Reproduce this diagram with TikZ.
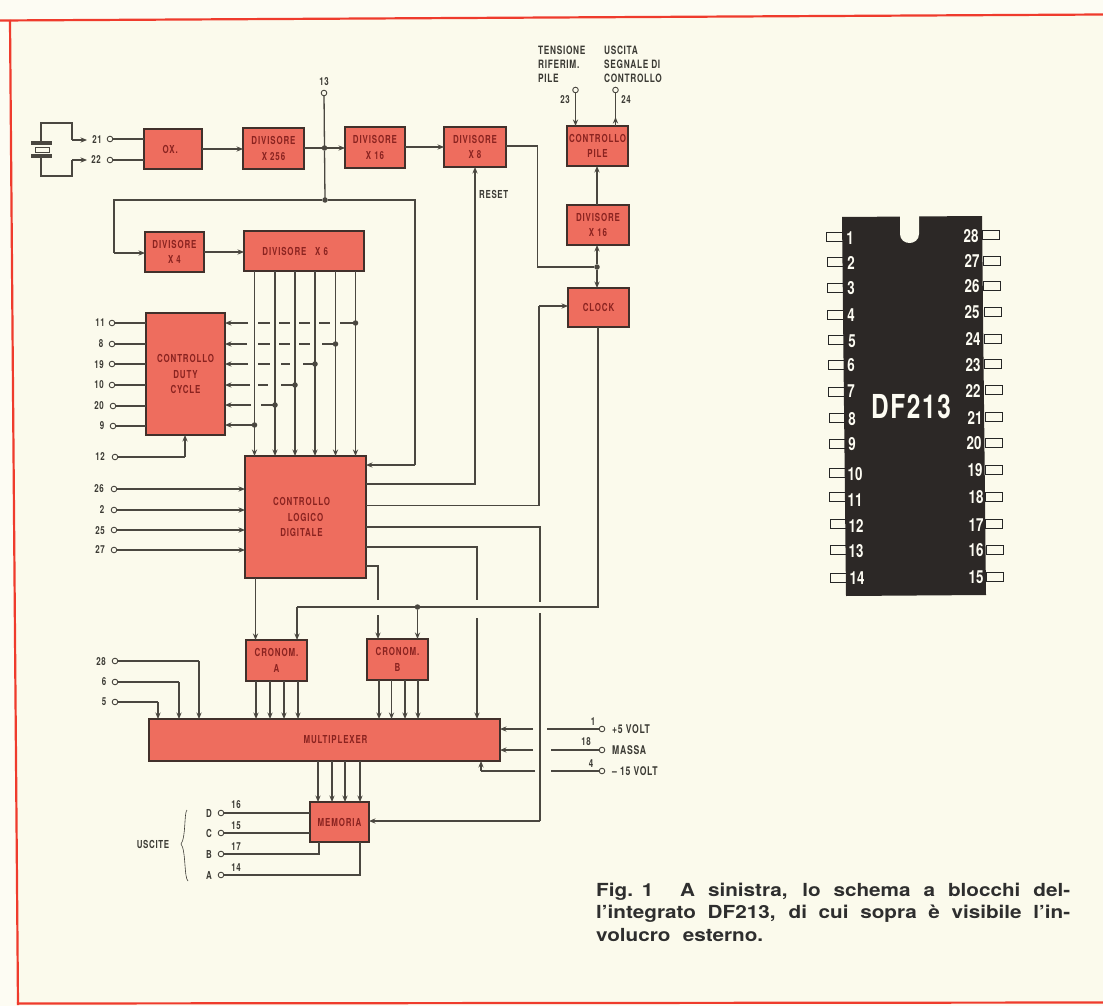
\documentclass[tikz,border=0pt]{standalone}
\usepackage{fontspec}
\usetikzlibrary{arrows.meta,calc}
\newfontfamily\boxfont[FakeStretch=0.72,LetterSpace=8]{TeX Gyre Heros}
\newfontfamily\pinfont[FakeStretch=0.72,LetterSpace=6]{TeX Gyre Heros}
\newfontfamily\chipfont[FakeStretch=0.74]{TeX Gyre Heros}
\newfontfamily\chipnamefont[FakeStretch=0.74,LetterSpace=5]{TeX Gyre Heros}
\newfontfamily\capfont[FakeStretch=1.15]{TeX Gyre Heros}
\definecolor{paper}{HTML}{FBFAEC}
\definecolor{paperb}{HTML}{FDFCF3}
\definecolor{redline}{HTML}{EF3B2C}
\definecolor{boxfill}{HTML}{EE6D5E}
\definecolor{boxedge}{HTML}{41302B}
\definecolor{boxtext}{HTML}{8A2320}
\definecolor{wirec}{HTML}{4A4740}
\definecolor{inkc}{HTML}{3B3A34}
\definecolor{chipc}{HTML}{2C2826}
\tikzset{
  blockbox/.style={draw=boxedge,fill=boxfill,line width=1.2pt,inner sep=0pt,outer sep=0pt,align=center,
    text=boxtext,font=\boxfont\bfseries\fontsize{11}{15.3}\selectfont},
  wire/.style={draw=wirec,line width=1.3pt,line join=miter},
  arrowwire/.style={wire,-{Stealth[length=6.5pt,width=5.2pt]}},
  pinring/.style={circle,draw=wirec,fill=paper,line width=.9pt,minimum size=5.6pt,inner sep=0pt,outer sep=0pt},
  junction/.style={circle,fill=wirec,minimum size=5.5pt,inner sep=0pt,outer sep=0pt},
  pinlabel/.style={text=inkc,inner sep=0pt,font=\pinfont\bfseries\fontsize{11}{12}\selectfont},
  supplylabel/.style={pinlabel,anchor=west,font=\pinfont\bfseries\fontsize{12}{12}\selectfont},
  notelabel/.style={text=inkc,inner sep=0pt,align=left,font=\pinfont\bfseries\fontsize{11.5}{14}\selectfont},
  chippinbox/.style={draw=black!85,fill=paper,line width=.8pt,minimum width=17pt,minimum height=9pt,inner sep=0pt},
  chipnum/.style={text=paperb,inner sep=0pt,font=\chipfont\bfseries\fontsize{18}{18}\selectfont},
  captionline/.style={text=black!82,inner sep=0pt,anchor=base west,font=\capfont\bfseries\fontsize{18}{20}\selectfont}
}
\newcommand{\blk}[6]{\node[blockbox,minimum width={(#4-#2)*1pt},minimum height={(#5-#3)*1pt}] (#1) at ({(#2+#4)/2},{(#3+#5)/2}) {#6};}
\newcommand{\pinat}[6]{\node[pinring] (#1) at (#2,#3) {}; \node[pinlabel] (#1l) at (#4,#5) {#6};}
\begin{document}
\begin{tikzpicture}[x=1pt,y=-1pt]
\useasboundingbox (0,0) rectangle (1103,1006);
\fill[paperb] (0,0) rectangle (1103,1006);
\fill[paper] (11,20) -- (1103,14) -- (1103,1004) -- (17,1004) -- cycle;
\draw[redline,line width=2.2pt] (0,20.5) -- (1103,14.5);
\draw[redline,line width=2.2pt] (10,20) -- (18,1005);
\draw[redline,line width=2.2pt] (17,1003.5) -- (1103,1002.5);

% blocks
\blk{ox}{144}{129}{202}{169}{OX.\hspace*{.5em}}
\blk{d256}{243}{128}{304}{169}{DIVISORE\\X 256}
\blk{d16}{345}{127}{405}{168}{DIVISORE\\X 16}
\blk{d8}{444}{127}{506}{167}{DIVISORE\\X 8}
\blk{pile}{567}{126}{628}{166}{CONTROLLO\\PILE}
\blk{d16b}{567}{205}{629}{245}{DIVISORE\\X 16}
\blk{clk}{568}{288}{629}{327}{CLOCK}
\blk{d4}{145}{232}{204}{272}{DIVISORE\\X 4}
\blk{d6}{244}{231}{364}{271}{DIVISORE\hspace{.8em}X 6\hspace*{1.6em}}
\blk{duty}{146}{313}{225}{435}{CONTROLLO\\DUTY\\CYCLE}
\blk{logic}{245}{456}{366}{578}{CONTROLLO\hspace*{8pt}\\LOGICO\hspace*{8pt}\\DIGITALE\hspace*{8pt}}
\blk{ca}{246}{640}{307}{681}{CRONOM.\\A}
\blk{cb}{367}{639}{428}{680}{CRONOM.\\B}
\blk{mux}{149}{719}{500}{761}{\hspace*{22pt}MULTIPLEXER}
\blk{mem}{310}{802}{369}{842}{MEMORIA}

% crystal
\draw[wire] (41,143) -- (41,123) -- (72,123) -- (72,140);
\draw[arrowwire] (72,140) -- (87,140);
\draw[wire] (41,156) -- (41,176) -- (72,176) -- (72,160);
\draw[arrowwire] (72,160) -- (87,160);
\fill[wirec] (31,141.5) rectangle (52,145.5);
\fill[wirec] (31,154) rectangle (52,158);
\draw[wirec,line width=.9pt] (35,147.5) rectangle (49,152);

% pins
\pinat{p21}{110}{139}{97}{140}{21}
\pinat{p22}{110}{160}{96}{160}{22}
\pinat{p13}{324}{93}{324}{82}{13}
\pinat{p23}{575.5}{90}{565}{100}{23}
\pinat{p24}{615.5}{90}{626}{100}{24}
\pinat{p11}{112}{323}{100}{323}{11}
\pinat{p8}{112}{344}{101}{344}{8}
\pinat{p19}{112}{364}{99}{365}{19}
\pinat{p10}{112}{385}{99}{385}{10}
\pinat{p20}{113}{406}{99}{406}{20}
\pinat{p9}{113}{426}{102}{426}{9}
\pinat{p12}{115}{457}{100}{457}{12}
\pinat{p26}{114}{489}{99}{489}{26}
\pinat{p2}{114}{510}{102}{510}{2}
\pinat{p25}{114}{530}{100}{531}{25}
\pinat{p27}{114}{550}{100}{550}{27}
\pinat{p28}{115}{661}{101}{662}{28}
\pinat{p6}{115}{682}{104}{682}{6}
\pinat{p5}{115}{702}{104}{702}{5}
\pinat{pplus}{602}{729}{593}{722}{1}
\pinat{pmassa}{602}{750}{586}{742}{18}
\pinat{pminus}{602}{771}{591}{764}{4}
\pinat{pd}{221}{813}{209}{813}{D}
\pinat{pc}{221}{833}{209}{833}{C}
\pinat{pb}{221}{854}{209}{854}{B}
\pinat{pa}{221}{875}{209}{875}{A}
\node[pinlabel] (n16) at (236,805) {16};
\node[pinlabel] (n15) at (236,826) {15};
\node[pinlabel] (n17) at (236,847) {17};
\node[pinlabel] (n14) at (236,868) {14};

% text labels
\node[notelabel,anchor=north west] (tens) at (538,45.5) {TENSIONE\\RIFERIM.\\PILE};
\node[notelabel,anchor=north west] (usc) at (604,45.5) {USCITA\\SEGNALE DI\\CONTROLLO};
\node[pinlabel,anchor=west] (reset) at (479,194) {RESET};
\node[supplylabel] (v5) at (612,729) {+5 VOLT};
\node[supplylabel] (vm) at (612,750) {MASSA};
\node[supplylabel] (v15) at (612,771) {– 15 VOLT};
\node[pinlabel] (usc2) at (153,844) {USCITE};
\draw[inkc,line width=.6pt] (187,810) .. controls (184,812) and (186,838) .. (181,844) .. controls (186,850) and (184,878) .. (188,881);

% top chain
\draw[wire] (p21) -- (p21 -| ox.west);
\draw[wire] (p22) -- (p22 -| ox.west);
\draw[arrowwire] (ox.east) -- (ox.east -| d256.west);
\draw[wire] (p13) -- (324.5,148);
\node[junction] (j1) at (324.5,148) {};
\draw[wire] (d256.east |- j1) -- (j1);
\draw[arrowwire] (j1) -- (j1 -| d16.west);
\draw[wire] (j1) -- (325,200);
\node[junction] (j2) at (325,200) {};
\draw[arrowwire] (d16.east |- 0,147) -- (d8.west |- 0,147);
\draw[wire] (j2) -- (114,200) -- (114,253);
\draw[arrowwire] (114,253) -- (d4.west |- 0,253);
\draw[wire] (j2) -- (415,200) -- (415,465);
\draw[arrowwire] (415,465) -- (logic.east |- 0,465);
\draw[arrowwire] (d4.east |- 0,252) -- (d6.west |- 0,252);

% right column
\node[junction] (j3) at (597,267) {};
\draw[wire] (d8.east |- 0,146) -- (537.5,146) -- (537.5,267) -- (j3);
\draw[arrowwire] (j3) -- (j3 |- d16b.south);
\draw[arrowwire] (j3) -- (j3 |- clk.north);
\draw[arrowwire] (d16b.north -| 597,0) -- (pile.south -| 597,0);
\draw[arrowwire] (p23) -- (p23 |- pile.north);
\draw[wire] (p24) -- (p24 |- pile.north);
\draw[arrowwire] (p24 |- pile.north) -- ++(0,-9);

% clock to cronometers
\node[junction] (j4) at (417.5,607) {};
\draw[wire] (clk.south -| 598,0) -- (598,607) -- (j4);
\draw[wire] (j4) -- (297,607);
\draw[arrowwire] (297,607) -- (297,640);
\draw[arrowwire] (j4) -- (j4 |- cb.north);

% logic outputs
\draw[arrowwire] (logic.east |- 0,484) -- (475,484) -- (475,167);
\draw[wire] (logic.east |- 0,505.5) -- (539,505.5) -- (539,306);
\draw[arrowwire] (539,306) -- (clk.west |- 0,306);
\draw[wire] (logic.east |- 0,527) -- (540,527) -- (540,602);
\draw[wire] (540,613) -- (540,821);
\draw[arrowwire] (540,821) -- (mem.east |- 0,821);
\draw[wire] (logic.east |- 0,547) -- (477,547) -- (477,600);
\draw[arrowwire] (477,618) -- (477,719);
\draw[wire] (logic.east |- 0,566) -- (378,566) -- (378,600);
\draw[arrowwire] (378,615) -- (378,639);
\draw[arrowwire] (logic.south -| 255.5,0) -- (255.5,640);

% divider bus
\foreach \x in {254.5,275,295,315,335.5,355.5}
  \draw[arrowwire] (\x,0 |- d6.south) -- (\x,0 |- logic.north);
\node[junction] (b1) at (355.5,323) {};
\node[junction] (b2) at (335.5,344) {};
\node[junction] (b3) at (315,364) {};
\node[junction] (b4) at (295,385) {};
\node[junction] (b5) at (275,405) {};
\node[junction] (b6) at (254.5,425) {};
\draw[arrowwire] (248,323) -- (duty.east |- b1);
\draw[arrowwire] (247,344) -- (duty.east |- b2);
\draw[arrowwire] (248,364) -- (duty.east |- b3);
\draw[arrowwire] (250,385) -- (duty.east |- b4);
\draw[arrowwire] (251,405) -- (duty.east |- b5);
\draw[arrowwire] (b6) -- (duty.east |- b6);
\foreach \a/\b in {258/270,279/290,299/310,319/330,340/355} \draw[wire] (\a,323) -- (\b,323);
\foreach \a/\b in {258/270,279/290,299/310,322/335} \draw[wire] (\a,344) -- (\b,344);
\foreach \a/\b in {258/270,281/290,303/315} \draw[wire] (\a,364) -- (\b,364);
\foreach \a/\b in {258/268,281/295} \draw[wire] (\a,385) -- (\b,385);
\draw[wire] (261,405) -- (275,405);

% duty left pins
\foreach \p in {p11,p8,p19,p10,p20,p9} \draw[wire] (\p) -- (\p -| duty.west);
\draw[wire] (p12) -- (185,457);
\draw[arrowwire] (185,457) -- (duty.south -| 185,0);

% logic inputs
\foreach \p in {p26,p2,p25,p27} \draw[arrowwire] (\p) -- (\p -| logic.west);

% cronom to mux
\foreach \x in {256,270,284,298} \draw[arrowwire] (\x,0 |- ca.south) -- (\x,0 |- mux.north);
\foreach \x in {379,391.5,405,418} \draw[arrowwire] (\x,0 |- cb.south) -- (\x,0 |- mux.north);

% mux left inputs
\draw[wire] (p28) -- (199,661);
\draw[arrowwire] (199,661) -- (199,0 |- mux.north);
\draw[wire] (p6) -- (179,682);
\draw[arrowwire] (179,682) -- (179,0 |- mux.north);
\draw[wire] (p5) -- (158,702);
\draw[arrowwire] (158,702) -- (158,0 |- mux.north);

% supplies
\draw[wire] (pplus) -- (547,729);
\draw[arrowwire] (533,729) -- (mux.east |- 0,729);
\draw[wire] (pmassa) -- (551,750);
\draw[arrowwire] (533,750) -- (mux.east |- 0,750);
\draw[wire] (pminus) -- (551,771);
\draw[wire] (535,771) -- (481,771);
\draw[arrowwire] (481,771) -- (481,0 |- mux.south);

% mux to memory
\foreach \x in {318,332,345,360} \draw[arrowwire] (\x,0 |- mux.south) -- (\x,0 |- mem.north);

% memory outputs
\draw[wire] (pd) -- (pd -| mem.west);
\draw[wire] (pc) -- (pc -| mem.west);
\draw[wire] (pb) -- (319,854) -- (319,0 |- mem.south);
\draw[wire] (pa) -- (360,875) -- (360,0 |- mem.south);

% chip
\foreach \n/\x/\y in {a1/826/237,a2/827/262,a3/827/288,a4/827/315,a5/828/340,a6/828/365,a7/828/392,a8/829/418,a9/829/444,a10/829/473,a11/829/497,a12/830/524,a13/830/550,a14/830/578}
  \node[chippinbox,anchor=west] (\n) at (\x,\y) {};
\foreach \n/\x/\y in {b28/982/235,b27/983/261,b26/983/286,b25/984/312,b24/984/339,b23/984/364,b22/985/390,b21/985/417,b20/985/443,b19/985/470,b18/985/497,b17/985/524,b16/986/550,b15/986/577}
  \node[chippinbox,anchor=west] (\n) at (\x,\y) {};
\fill[chipc] (842,217) -- (982,216) -- (986,595) -- (846,596) -- cycle;
\fill[paper] (900,216) -- (900,234) .. controls (900,240) and (905,243) .. (909.5,243) .. controls (914,243) and (919,240) .. (919,234) -- (919,216) -- cycle;
\node[chipnum,font=\chipnamefont\bfseries\fontsize{33}{33}\selectfont] (dfname) at (911,407) {DF213};
\foreach \n/\x/\y in {1/850/238,2/851/263,3/851/288,4/851/315,5/852/341,6/851/365,7/851/391,8/852/419,9/852/444}
  \node[chipnum] (l\n) at (\x,\y) {\n};
\foreach \n/\x/\y in {10/855/474,11/855/500,12/856/526,13/856/551,14/857/578}
  \node[chipnum] (l\n) at (\x,\y) {\n};
\foreach \n/\x/\y in {28/971/236,27/972/261,26/972/286,25/972/312,24/973/339,23/973/365,22/973/391,21/975/418,20/974/443,19/975/470,18/976/497,17/976/525,16/976/550,15/976/577}
  \node[chipnum] (l\n) at (\x,\y) {\n};

% caption
\node[captionline] (c1) at (596,896) {\makebox[84pt][l]{Fig.\hspace{.5em}1}\makebox[390pt][s]{A sinistra, lo schema a blocchi del-}};
\node[captionline] (c2) at (596,918.5) {\makebox[474pt][s]{l’integrato DF213, di cui sopra è visibile l’in-}};
\node[captionline] (c3) at (596,941) {\makebox[167pt][s]{volucro esterno.}};
\end{tikzpicture}
\end{document}
